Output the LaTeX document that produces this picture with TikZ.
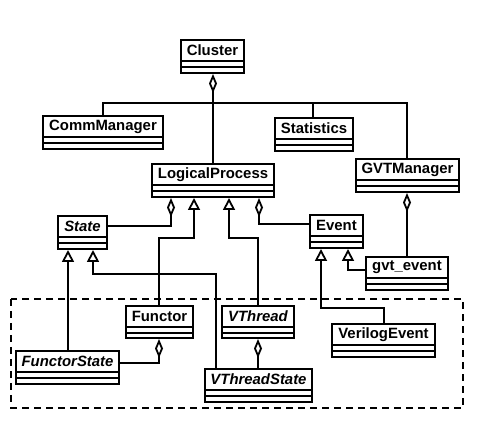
\documentclass[tikz,border=0pt]{standalone}
\usepackage{fontspec}
\setmainfont{Liberation Sans}
\usetikzlibrary{arrows.meta}
\tikzset{
  cls/.style={draw, line width=2pt, inner sep=0pt},
  sep/.style={line width=2pt},
  ttl/.style={font=\fontsize{14.9}{17}\selectfont\bfseries, inner sep=0pt},
  conn/.style={line width=2pt},
  inh/.style={conn, -{Triangle[open,length=12pt,width=12pt,line width=1.8pt]}},
  agg/.style={conn, -{Diamond[open,length=19pt,width=8pt,line width=1.8pt]}},
  pkg/.style={draw, line width=1.4pt, dash pattern=on 7pt off 5pt}
}
\newcommand{\umlclass}[6]{%
  \node[cls, minimum width={(#4-#2)*1pt}, minimum height={(#5-#3)*1pt}] (#1) at ({(#2+#4)/2},{(#3+#5)/2}) {};
  \draw[sep] (#2,#3+21) -- (#4,#3+21);
  \draw[sep] (#2,#3+27) -- (#4,#3+27);
  \node[ttl] (#1-t) at ({(#2+#4)/2},{#3+10.5}) {#6};
}
\begin{document}
\begin{tikzpicture}[x=1pt,y=-1pt]
\useasboundingbox (0,0) rectangle (488,430);
% package frame
\draw[pkg] (11,299) rectangle (463,408);
% classes
\umlclass{cluster}{181}{40}{244}{73}{Cluster}
\umlclass{comm}{43}{116}{163}{149}{CommManager}
\umlclass{stat}{275}{118}{353}{151}{Statistics}
\umlclass{gvt}{356}{159}{459}{192}{GVTManager}
\umlclass{lp}{152}{164}{274}{197}{LogicalProcess}
\umlclass{state}{58}{216}{107}{249}{\itshape State}
\umlclass{event}{310}{215}{363}{248}{Event}
\umlclass{gvtev}{366}{257}{448}{290}{gvt\_event}
\umlclass{functor}{126}{306}{193}{338}{Functor}
\umlclass{vthread}{222}{306}{294}{338}{\itshape VThread}
\umlclass{verilog}{332}{324}{435}{357}{VerilogEvent}
\umlclass{fstate}{16}{351}{119}{384}{\itshape FunctorState}
\umlclass{vts}{205}{369}{312}{402}{\itshape VThreadState}
% cluster aggregation bus
\coordinate (busl) at (103,103);
\coordinate (busr) at (407,103);
\draw[agg] (213,0 |- lp.north) -- (213,0 |- cluster.south);
\draw[conn] (103,0 |- comm.north) -- (busl) -- (busr) -- (407,0 |- gvt.north);
\draw[conn] (313,0 |- stat.north) -- (313,103);
% LogicalProcess relations
\draw[agg] (state.north east |- 0,226) -| (171,0 |- lp.south);
\draw[inh] (159,0 |- functor.north) |- (194,238) -- (194,0 |- lp.south);
\draw[inh] (258,0 |- vthread.north) |- (229,238) -- (229,0 |- lp.south);
\draw[agg] (event.north west |- 0,224) -| (259,0 |- lp.south);
% GVT
\draw[agg] (407,0 |- gvtev.north) -- (407,0 |- gvt.south);
\draw[inh] (gvtev.north west |- 0,270) -| (348,0 |- event.south);
\draw[inh] (384,0 |- verilog.north) |- (321,308) -- (321,0 |- event.south);
% State
\draw[inh] (68,0 |- fstate.north) -- (68,0 |- state.south);
\draw[inh] (216,0 |- vts.north) |- (93,274) -- (93,0 |- state.south);
% aggregations inside package
\draw[agg] (fstate.north east |- 0,363) -| (159,0 |- functor.south);
\draw[agg] (258,0 |- vts.north) -- (258,0 |- vthread.south);
\end{tikzpicture}
\end{document}
